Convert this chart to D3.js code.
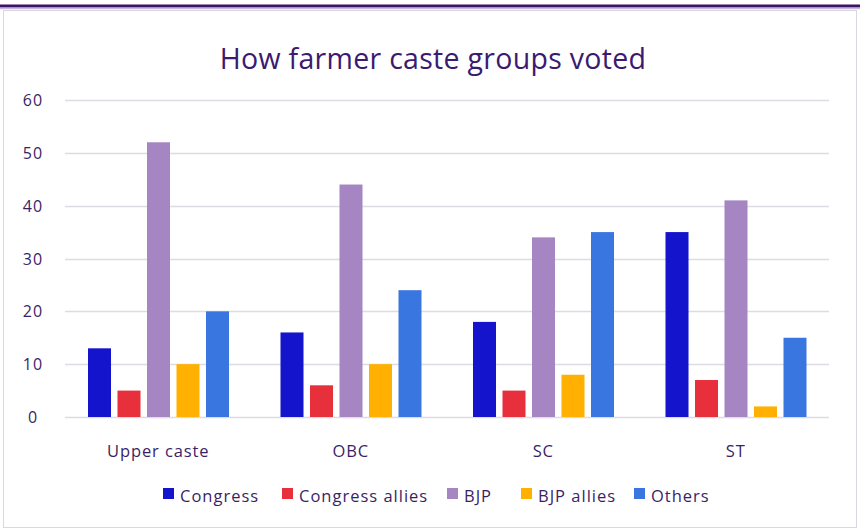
<!DOCTYPE html>
<html><head><meta charset="utf-8">
<script src="https://cdn.jsdelivr.net/npm/d3@7"></script>
<style>body{margin:0;background:#fff;} svg{display:block;}</style>
</head><body>
<svg id="c" width="860" height="529"></svg>
<script>
const categories = ["Upper caste", "OBC", "SC", "ST"];
const seriesNames = ["Congress", "Congress allies", "BJP", "BJP allies", "Others"];
const congress = [13, 16, 18, 35];
const congressAllies = [5, 6, 5, 7];
const bjp = [52, 44, 34, 41];
const bjpAllies = [10, 10, 8, 2];
const others = [20, 24, 35, 15];
const yTicks = [0, 10, 20, 30, 40, 50, 60];
const colors = ["#1414cc", "#e8303c", "#a586c2", "#ffb000", "#3a76e0"];

const seriesValues = [congress, congressAllies, bjp, bjpAllies, others];
const svg = d3.select("#c");
const font = "'Open Sans', Lato, sans-serif";
const txt = "#3a1f66";

// outer frame
svg.append("rect").attr("x", 3.5).attr("y", 10.5).attr("width", 853).attr("height", 517)
  .attr("fill", "#fff").attr("stroke", "#d8d8e0").attr("stroke-width", 1);
svg.append("line").attr("x1", 0).attr("x2", 860).attr("y1", 6).attr("y2", 6)
  .attr("stroke", "#3a1466").attr("stroke-width", 3);
svg.append("line").attr("x1", 0).attr("x2", 860).attr("y1", 8.5).attr("y2", 8.5)
  .attr("stroke", "#c9b6e0").attr("stroke-width", 1.5);

svg.append("text").attr("x", 433).attr("y", 69).attr("text-anchor", "middle")
  .attr("font-family", font).attr("font-size", 28.5).attr("fill", "#3b1a70")
  .attr("letter-spacing", 0.3)
  .text("How farmer caste groups voted");

const x0 = d3.scaleBand().domain(categories).range([62, 832]).paddingInner(0).paddingOuter(0);
const x1 = d3.scaleBand().domain(seriesNames).range([26, 167]).paddingInner(0.22);
const y = d3.scaleLinear().domain([0, 60]).range([417, 100]);

const grid = svg.append("g");
grid.selectAll("line").data(yTicks).join("line")
  .attr("x1", 65).attr("x2", 829)
  .attr("y1", d => Math.round(y(d)) + 0.5).attr("y2", d => Math.round(y(d)) + 0.5)
  .attr("stroke", "#dcdce4").attr("stroke-width", 1.5);

const yAxis = d3.axisLeft(y).tickValues(yTicks).tickSize(0).tickPadding(0);
const ya = svg.append("g").attr("transform", "translate(33,0)").call(yAxis);
ya.select(".domain").remove();
ya.selectAll("text").attr("font-family", font).attr("font-size", 16).attr("fill", txt)
  .attr("letter-spacing", 1).attr("text-anchor", "middle").attr("dy", "0.35em");

const xAxis = d3.axisBottom(x0).tickSize(0).tickPadding(0);
const xa = svg.append("g").attr("transform", "translate(0,451)").call(xAxis);
xa.select(".domain").remove();
xa.selectAll("text").attr("font-family", font).attr("font-size", 16.5).attr("fill", txt)
  .attr("letter-spacing", 0.9).attr("dy", "0.35em");

const groups = svg.append("g").selectAll("g").data(categories).join("g")
  .attr("transform", d => `translate(${x0(d)},0)`);
groups.selectAll("rect").data((d, i) => seriesNames.map((s, j) => ({s, v: seriesValues[j][i], c: colors[j]})))
  .join("rect")
  .attr("x", d => x1(d.s)).attr("width", x1.bandwidth())
  .attr("y", d => y(d.v)).attr("height", d => y(0) - y(d.v))
  .attr("fill", d => d.c);

// legend
const legendX = [163, 282, 447, 521, 634];
const lg = svg.append("g").selectAll("g").data(seriesNames).join("g")
  .attr("transform", (d, i) => `translate(${legendX[i]},488)`);
lg.append("rect").attr("width", 11).attr("height", 11).attr("fill", (d, i) => colors[i]);
lg.append("text").attr("x", 17).attr("y", 8).attr("dy", "0.35em")
  .attr("font-family", font).attr("font-size", 16.5).attr("fill", txt)
  .attr("letter-spacing", 1.0).text(d => d);
</script>
</body></html>
